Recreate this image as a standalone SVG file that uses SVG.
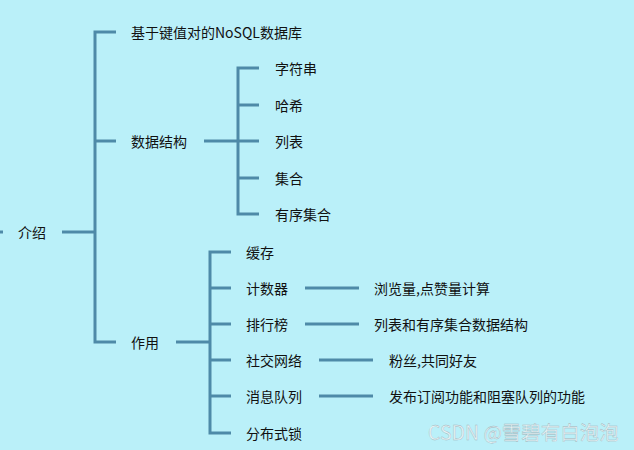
<svg xmlns="http://www.w3.org/2000/svg" width="634" height="450" viewBox="0 0 634 450">
<style>
.c{stroke:#4e8aa8;stroke-width:3;fill:none}
text{font-family:"Noto Sans CJK SC","Noto Sans",sans-serif;font-size:14px;fill:#111;dominant-baseline:central}
.wm{font-size:19.5px;fill:#e6f2f5;stroke:#9cb2b9;stroke-width:0.35}
</style>
<rect width="634" height="450" fill="#baf0f9"/>
<g id="connectors">
<path class="c" d="M0,232H3"/>
<path class="c" d="M62,232H94"/>
<path class="c" d="M116,32H95V342H116M95,141H116"/>
<path class="c" d="M204,141H237"/>
<path class="c" d="M259,68H238V214H259M238,105H259M238,141H259M238,178H259"/>
<path class="c" d="M176,342H209"/>
<path class="c" d="M231,252H210V433H231M210,288H231M210,324H231M210,360H231M210,396H231"/>
<path class="c" d="M305,288H359M305,324H359M319,360H373M319,396H373"/>
</g>
<g id="n-root"><text x="18" y="232">介绍</text></g>
<g id="n-nosql"><text x="131" y="32">基于键值对的NoSQL数据库</text></g>
<g id="n-ds"><text x="131" y="141">数据结构</text></g>
<g id="n-str"><text x="275" y="68">字符串</text></g>
<g id="n-hash"><text x="275" y="105">哈希</text></g>
<g id="n-list"><text x="275" y="141">列表</text></g>
<g id="n-set"><text x="275" y="178">集合</text></g>
<g id="n-zset"><text x="275" y="214">有序集合</text></g>
<g id="n-use"><text x="131" y="342">作用</text></g>
<g id="n-cache"><text x="246" y="252">缓存</text></g>
<g id="n-counter"><text x="246" y="288">计数器</text></g>
<g id="n-rank"><text x="246" y="324">排行榜</text></g>
<g id="n-social"><text x="246" y="360">社交网络</text></g>
<g id="n-mq"><text x="246" y="396">消息队列</text></g>
<g id="n-lock"><text x="246" y="433">分布式锁</text></g>
<g id="n-counter-d"><text x="374" y="288">浏览量,点赞量计算</text></g>
<g id="n-rank-d"><text x="374" y="324">列表和有序集合数据结构</text></g>
<g id="n-social-d"><text x="389" y="360">粉丝,共同好友</text></g>
<g id="n-mq-d"><text x="389" y="396">发布订阅功能和阻塞队列的功能</text></g>
<text class="wm" x="428" y="431">CSDN @雪碧有白泡泡</text>
</svg>
